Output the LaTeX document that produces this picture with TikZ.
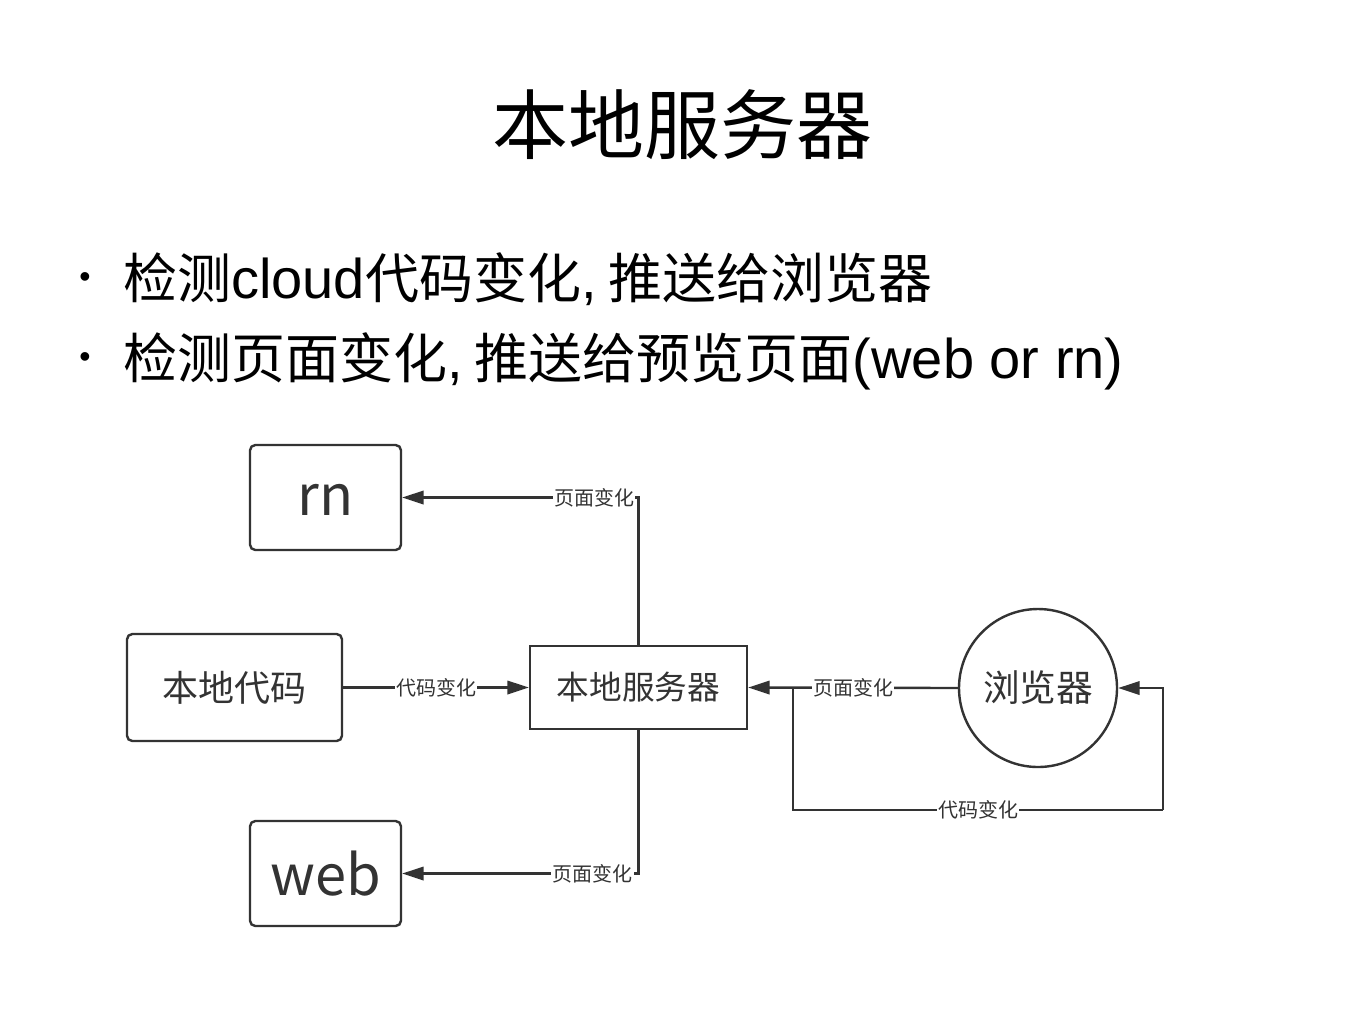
\documentclass[tikz,border=0pt]{standalone}
\usepackage{fontspec}
\setmainfont{Liberation Sans}
\newfontfamily\cjk{Noto Sans CJK SC}
\newfontfamily\arl{Liberation Sans}
\usetikzlibrary{arrows.meta}
\definecolor{ln}{HTML}{333333}
\newcommand{\lat}[1]{{\arl\fontsize{42pt}{50pt}\selectfont #1}}
\begin{document}
\begin{tikzpicture}[x=0.75pt,y=-0.75pt,
  rbox/.style={draw=ln, line width=1.8pt, rounded corners=4pt, text=ln, inner sep=0pt},
  sbox/.style={draw=ln, line width=1.8pt, text=ln, inner sep=0pt},
  conn/.style={draw=ln, line width=1.8pt, -{Triangle[length=16pt,width=10pt]}},
  wire/.style={draw=ln, line width=1.8pt},
  lbl/.style={fill=white, text=ln, inner sep=1pt, font=\cjk\fontsize{15pt}{17pt}\selectfont},
  bigtxt/.style={font=\cjk\fontsize{27pt}{30pt}\selectfont},
  lattxt/.style={font=\cjk\fontsize{42pt}{46pt}\selectfont},
  bullet/.style={anchor=base, font=\arl\fontsize{24pt}{26pt}\selectfont},
  line/.style={anchor=base west, inner sep=0pt, font=\cjk\fontsize{40.5pt}{48pt}\selectfont}]
\useasboundingbox (0,0) rectangle (1359,1015);
\fill[white] (0,0) rectangle (1359,1015);

% title
\node[font=\cjk\fontsize{57pt}{64pt}\selectfont] (title) at (682,125) {本地服务器};

% bullets
\node[bullet] (d1) at (85,287) {•};
\node[bullet] (d2) at (85,367) {•};
\node[line] (l1) at (123,298) {检测\lat{cloud}代码变化\lat{,}\hspace{9pt}推送给浏览器};
\node[line] (l2) at (123,378) {检测页面变化\lat{,}\hspace{9pt}推送给预览页面\lat{(web or rn)}};

% nodes
\node[rbox, lattxt, text height=27pt, text depth=0pt, minimum width=113.25pt, minimum height=78.75pt] (rn) at (325.5,497.5) {rn};
\node[rbox, bigtxt, minimum width=161.25pt, minimum height=80.25pt] (code) at (234.5,687.5) {本地代码};
\node[sbox, font=\cjk\fontsize{24.5pt}{28pt}\selectfont, minimum width=162.75pt, minimum height=62.25pt] (server) at (638.5,687.5) {本地服务器};
\node[circle, draw=ln, line width=1.8pt, text=ln, inner sep=0pt, minimum size=118.5pt, font=\cjk\fontsize{27.5pt}{30pt}\selectfont] (browser) at (1038,688) {浏览器};
\node[rbox, lattxt, minimum width=113.25pt, minimum height=78.75pt] (web) at (325.5,873.5) {web};

% connectors
\draw[conn] (code) -- node[lbl] {代码变化} (server);
\draw[conn] (server.north) |- node[lbl, pos=0.594] {页面变化} (rn.east);
\draw[conn] (server.south) |- node[lbl, pos=0.597] {页面变化} (web.east);
\draw[conn] (browser.west) -- node[lbl] {页面变化} (server.east);

\coordinate (j) at (793,687.5);
\coordinate (lb) at (793,810);
\coordinate (rb) at (1163,810);
\draw[wire] (j) -- (lb) -- node[lbl] {代码变化} (rb);
\draw[conn] (rb) |- (browser.east);
\end{tikzpicture}
\end{document}
